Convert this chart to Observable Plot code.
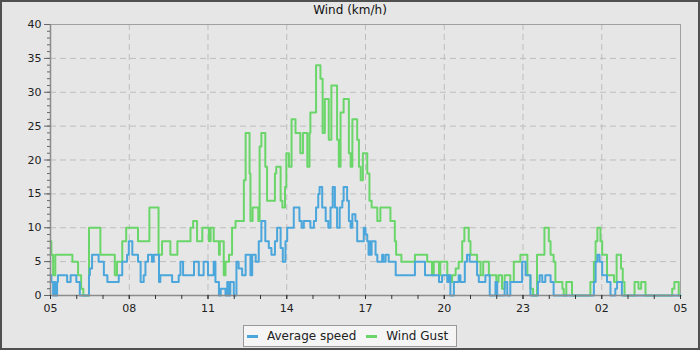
<!DOCTYPE html>
<html><head><meta charset="utf-8">
<script src="https://cdn.jsdelivr.net/npm/d3@7"></script>
<script src="https://cdn.jsdelivr.net/npm/@observablehq/plot@0.6"></script>
<style>
html,body{margin:0;padding:0;background:#e6e6e6;}
#chart{position:relative;width:700px;height:350px;background:#e6e6e6;font-family:"DejaVu Sans",sans-serif;overflow:hidden;}
#chart::after{content:"";position:absolute;left:0;top:0;right:0;bottom:0;border:2px solid #505050;pointer-events:none;}
#title{height:14px;line-height:14px;padding-top:3px;text-align:center;font-size:12px;color:#111;}
#chart svg{display:block;}
#legwrap{height:33px;text-align:center;}
#legend{display:inline-flex;align-items:center;margin-top:5px;height:22px;box-sizing:border-box;border:1px solid #999;background:#f5f5f5;font-size:12px;color:#222;padding:0 8px 0 3px;}
.sw{display:inline-block;width:11px;height:3px;margin-right:9px;}
.it{display:inline-flex;align-items:center;}
.it + .it{margin-left:10px;}
</style></head>
<body>
<div id="chart">
  <div id="title">Wind (km/h)</div>
  <div id="plot"></div>
  <div id="legwrap"><div id="legend"></div></div>
</div>
<script>
// minutes after 05:00
const tickMinutes = [0, 180, 360, 540, 720, 900, 1080, 1260, 1440];
const tickLabels = ["05", "08", "11", "14", "17", "20", "23", "02", "05"];
const seriesNames = ["Average speed", "Wind Gust"];
const seriesColors = ["#4ba6dc", "#6ad66a"];

const gustMin = [0,2,6,11,50,63,70,75,88,114,147,152,164,173,200,226,247,255,274,290,320,326,335,347,362,366,373,385,387,396,400,408,415,423,442,446,455,457,462,475,478,482,491,495,513,516,526,530,536,539,545,551,560,571,577,587,592,594,607,617,622,627,636,642,655,659,663,670,682,686,690,701,705,709,714,724,729,734,747,754,777,787,790,802,833,861,872,876,888,891,907,914,918,926,933,941,946,956,960,975,983,989,1002,1019,1024,1032,1038,1051,1059,1074,1090,1097,1103,1112,1129,1139,1143,1150,1154,1170,1173,1179,1192,1234,1242,1246,1250,1257,1261,1272,1288,1294,1304,1308,1312,1335,1344,1350,1360,1421,1426,1436,1440];
const gustVal = [8,6,3,6,5,3,1,0,10,6,3,5,8,10,8,13,6,8,6,8,10,11,8,10,8,10,8,6,8,3,5,6,10,11,17,24,18,11,13,11,22,24,19,14,18,19,14,13,16,21,19,26,24,21,24,19,24,27,34,32,24,29,23,31,23,19,27,29,21,19,26,23,19,17,21,18,14,13,11,13,11,8,6,5,6,5,3,5,3,5,3,2,3,4,5,8,10,8,6,5,3,5,3,2,3,1,3,2,5,6,3,1,0,6,10,8,6,5,2,1,0,2,0,2,5,8,10,8,6,3,2,6,4,2,0,2,1,2,0,1,2,0,0];

const avgMin = [0,2,6,9,11,15,17,38,46,59,67,88,90,95,110,122,130,156,164,175,179,187,200,206,213,217,223,232,236,248,251,278,293,297,303,328,339,350,360,373,377,385,389,400,404,407,411,419,425,430,438,446,457,461,469,476,482,491,499,505,513,518,526,531,537,541,556,569,574,579,594,602,607,612,615,621,629,635,640,645,650,655,661,667,670,678,682,686,690,697,701,716,720,724,727,729,731,734,743,747,758,761,766,773,789,833,856,888,895,907,910,914,922,933,937,947,952,958,975,979,994,1004,1017,1021,1038,1044,1051,1078,1086,1097,1114,1118,1124,1131,1143,1150,1242,1246,1250,1255,1261,1272,1280,1291,1295,1306,1440];
const avgVal = [3,2,0,2,0,2,3,2,3,2,0,3,4,6,5,3,2,3,5,6,8,6,5,2,3,5,6,5,6,2,3,2,3,5,3,5,3,5,3,5,2,0,1,0,2,0,2,0,5,4,3,6,3,6,5,8,11,8,7,6,8,10,7,5,8,10,13,11,10,11,10,11,13,15,16,13,11,10,13,16,13,10,13,14,16,14,11,10,12,11,8,10,9,8,6,8,6,8,6,5,6,5,6,5,3,5,3,2,3,2,3,0,2,3,2,5,6,5,3,2,3,0,2,0,2,0,2,5,3,0,2,3,2,3,2,0,2,5,6,5,3,2,0,1,2,0,0];

const gust = gustMin.map((m, i) => ({m, v: gustVal[i]}));
const avg = avgMin.map((m, i) => ({m, v: avgVal[i]}));

const gridX = tickMinutes.slice(1, -1);
const chart = Plot.plot({
  width: 700,
  height: 303,
  marginLeft: 50,
  marginRight: 20,
  marginTop: 7,
  marginBottom: 25,
  style: {background: "transparent", fontFamily: "DejaVu Sans, sans-serif", fontSize: "11px", color: "#222"},
  x: {domain: [0, 1440], axis: null, label: null},
  y: {domain: [0, 40], axis: null, label: null},
  marks: [
    Plot.ruleY(d3.range(5, 40, 5), {stroke: "#bdbdbd", strokeWidth: 1, strokeDasharray: "6,4"}),
    Plot.ruleX(gridX, {stroke: "#bdbdbd", strokeWidth: 1, strokeDasharray: "6,4"}),
    Plot.ruleY([40], {stroke: "#a0a0a0"}),
    Plot.ruleX([1440], {stroke: "#a0a0a0"}),
    Plot.line(gust, {x: "m", y: "v", curve: "step-after", stroke: seriesColors[1], strokeWidth: 2}),
    Plot.line(avg, {x: "m", y: "v", curve: "step-after", stroke: seriesColors[0], strokeWidth: 2}),
    Plot.ruleX([0], {stroke: "#8c8c8c", strokeWidth: 1.5}),
    Plot.ruleY([0], {stroke: "#8c8c8c", strokeWidth: 1.5}),
    Plot.axisY(d3.range(0, 41, 1), {label: null, tickSize: 3, tickFormat: () => "", stroke: "#666"}),
    Plot.axisY(d3.range(0, 41, 5), {label: null, tickSize: 6, tickPadding: 3, tickFormat: d => String(d), stroke: "#666", fill: "#222"}),
    Plot.axisX(d3.range(0, 1441, 60), {label: null, tickSize: 4, tickFormat: () => "", stroke: "#333"}),
    Plot.axisX(tickMinutes, {label: null, tickSize: 4, tickPadding: 5, tickFormat: d => tickLabels[tickMinutes.indexOf(d)], stroke: "#333", fill: "#222"})
  ]
});
document.getElementById("plot").appendChild(chart);

const legend = document.getElementById("legend");
seriesNames.forEach((name, i) => {
  const it = document.createElement("span");
  it.className = "it";
  const sw = document.createElement("span");
  sw.className = "sw";
  sw.style.background = seriesColors[i];
  it.appendChild(sw);
  it.appendChild(document.createTextNode(name));
  legend.appendChild(it);
});
</script>
</body></html>
